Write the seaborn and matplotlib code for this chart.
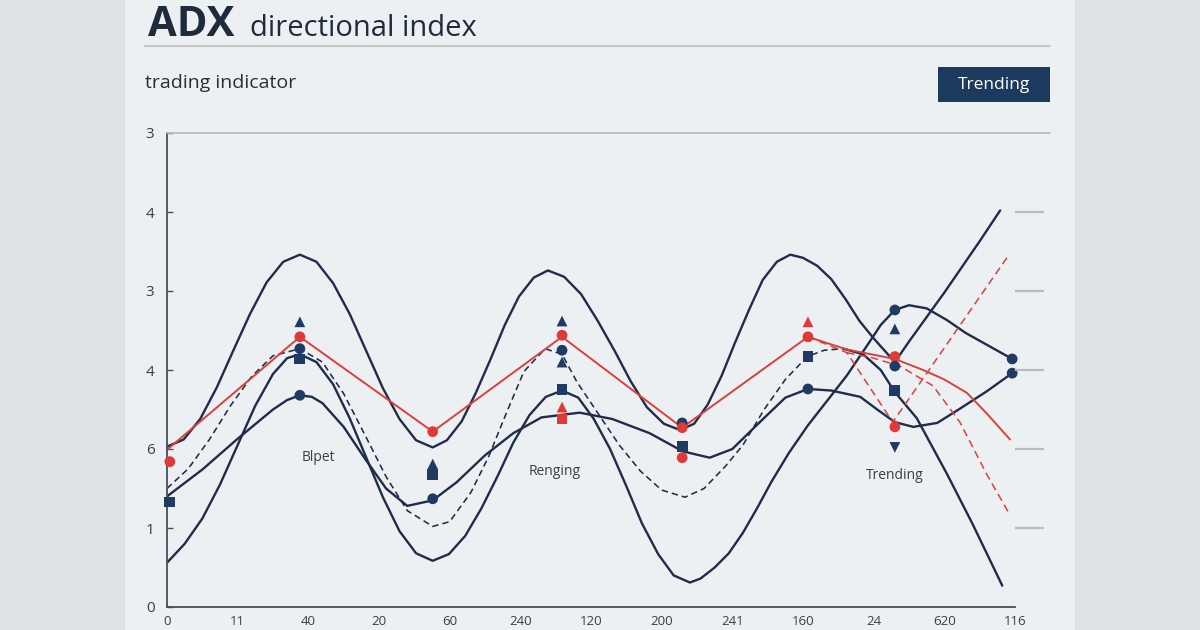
import pandas as pd
import matplotlib
matplotlib.use("Agg")
import matplotlib.pyplot as plt
import seaborn as sns
from matplotlib.patches import Rectangle
from matplotlib.lines import Line2D

sns.set_theme(style="white")
plt.rcParams['font.family'] = ['Open Sans', 'DejaVu Sans']

NAVY = '#1f2d4b'
MARK_NAVY = '#1f3a63'
RED = '#d8413d'

# ---------- axis labels (as drawn in the picture) ----------
x_tick_labels = ["0", "11", "40", "20", "60", "240", "120", "200", "241", "160", "24", "620", "116"]
y_tick_labels = ["0", "1", "6", "4", "3", "4", "3"]

# ---------- navy solid curves ----------
wave_a_x = [0, 0.235, 0.47, 0.705, 0.94, 1.175, 1.41, 1.645, 1.88,
            2.115, 2.35, 2.585, 2.82, 3.055, 3.29, 3.525, 3.76,
            3.96, 4.17, 4.37, 4.58, 4.78, 4.98, 5.19, 5.39,
            5.62, 5.86, 6.09, 6.33, 6.56, 6.79, 7.03, 7.26,
            7.46, 7.65, 7.85, 8.04, 8.24, 8.43, 8.63, 8.82,
            9.0, 9.2, 9.4, 9.6, 9.8, 10.0, 10.15, 10.3,
            10.5, 11.0, 11.5, 11.79]
wave_a_y = [2.03, 2.12, 2.38, 2.78, 3.25, 3.71, 4.11, 4.37, 4.46,
            4.37, 4.10, 3.71, 3.24, 2.77, 2.38, 2.11, 2.02,
            2.11, 2.35, 2.71, 3.14, 3.57, 3.93, 4.17, 4.26,
            4.18, 3.96, 3.63, 3.25, 2.86, 2.53, 2.32, 2.24,
            2.32, 2.56, 2.93, 3.35, 3.77, 4.14, 4.37, 4.46,
            4.42, 4.32, 4.15, 3.90, 3.62, 3.40, 3.25, 3.10,
            3.36, 3.98, 4.63, 5.02]

wave_b_x = [0, 0.25, 0.5, 0.75, 1.0, 1.25, 1.5, 1.7, 1.88,
            2.115, 2.35, 2.585, 2.82, 3.055, 3.29, 3.525, 3.76,
            3.99, 4.22, 4.45, 4.68, 4.90, 5.13, 5.36, 5.59,
            5.82, 6.04, 6.27, 6.50, 6.72, 6.95, 7.17, 7.40,
            7.55, 7.75, 7.95, 8.15, 8.35, 8.55, 8.8, 9.07, 9.35, 9.62, 9.9, 10.1, 10.3,
            10.5, 10.75, 11.04, 11.3, 11.6, 11.96]
wave_b_y = [0.56, 0.80, 1.12, 1.55, 2.05, 2.55, 2.95, 3.15, 3.20,
            3.10, 2.82, 2.39, 1.89, 1.39, 0.96, 0.68, 0.585,
            0.67, 0.90, 1.25, 1.66, 2.08, 2.43, 2.66, 2.74,
            2.65, 2.38, 2.00, 1.53, 1.06, 0.67, 0.40, 0.31,
            0.36, 0.50, 0.68, 0.94, 1.25, 1.58, 1.95, 2.30, 2.62, 2.93, 3.30, 3.57, 3.76,
            3.82, 3.78, 3.63, 3.47, 3.32, 3.14]

wave_c_x = [0, 0.5, 1.0, 1.5, 1.7, 1.88, 2.05, 2.2, 2.5, 2.8, 3.1, 3.4,
            3.76, 4.1, 4.5, 4.9, 5.3, 5.84, 6.3, 6.83, 7.3, 7.68,
            8.0, 8.4, 8.75, 9.07, 9.4, 9.81, 10.05, 10.3, 10.56, 10.9,
            11.22, 11.6, 11.96]
wave_c_y = [1.40, 1.74, 2.13, 2.50, 2.62, 2.68, 2.66, 2.58, 2.28, 1.88, 1.50, 1.28,
            1.35, 1.58, 1.92, 2.20, 2.40, 2.46, 2.38, 2.20, 1.97, 1.89,
            2.00, 2.35, 2.65, 2.76, 2.74, 2.66, 2.50, 2.34, 2.28, 2.33,
            2.51, 2.73, 2.96]

drop_x = [9.57, 9.85, 10.1, 10.3, 10.61, 11.04, 11.4, 11.82]
drop_y = [3.27, 3.20, 3.00, 2.72, 2.39, 1.68, 1.05, 0.27]

# ---------- navy dashed curve ----------
dash_x = [0, 0.3, 0.6, 0.9, 1.2, 1.5, 1.88, 2.2, 2.5, 2.8,
          3.1, 3.4, 3.76, 4.0, 4.3, 4.55, 4.8, 5.05, 5.35, 5.59,
          5.8, 6.1, 6.4, 6.7, 7.0, 7.33, 7.6, 7.9, 8.15, 8.45,
          8.75, 9.06, 9.3, 9.57]
dash_y = [1.50, 1.75, 2.12, 2.55, 2.92, 3.18, 3.27, 3.10, 2.70, 2.18,
          1.65, 1.22, 1.02, 1.08, 1.45, 1.90, 2.45, 2.98, 3.27, 3.20,
          2.85, 2.45, 2.05, 1.72, 1.48, 1.39, 1.50, 1.78, 2.05, 2.50,
          2.88, 3.17, 3.25, 3.27]

# ---------- red curves ----------
red_x = [0, 1.88, 3.76, 5.59, 7.29, 9.07, 9.62, 10.3, 10.7, 11.0, 11.32, 11.6, 11.93]
red_y = [1.99, 3.42, 2.22, 3.42, 2.27, 3.42, 3.26, 3.14, 3.00, 2.88, 2.71, 2.45, 2.12]

red_dash1_x = [9.07, 9.62, 10.27, 11.90]
red_dash1_y = [3.42, 3.22, 2.34, 4.44]

red_dash2_x = [9.62, 10.0, 10.37, 10.84, 11.22, 11.60, 11.90]
red_dash2_y = [3.22, 3.15, 3.05, 2.80, 2.34, 1.68, 1.21]

# ---------- markers ----------
mark_x = [0.04, 0.04,
          1.88, 1.88, 1.88, 1.88, 1.88,
          3.76, 3.76, 3.76, 3.76,
          5.59, 5.59, 5.59, 5.59, 5.59, 5.59, 5.59,
          7.29, 7.29, 7.29, 7.29,
          9.07, 9.07, 9.07, 9.07,
          10.30, 10.30, 10.30, 10.30, 10.30, 10.30, 10.30,
          11.96, 11.96]
mark_y = [1.84, 1.33,
          3.61, 3.42, 3.27, 3.14, 2.68,
          2.22, 1.81, 1.68, 1.37,
          3.62, 3.44, 3.25, 3.10, 2.75, 2.53, 2.38,
          2.33, 2.27, 2.03, 1.89,
          3.61, 3.42, 3.17, 2.76,
          3.76, 3.52, 3.17, 3.05, 2.74, 2.28, 2.02,
          3.14, 2.96]
mark_shape = ['o', 's',
              '^', 'o', 'o', 's', 'o',
              'o', '^', 's', 'o',
              '^', 'o', 'o', '^', 's', '^', 's',
              'o', 'o', 's', 'o',
              '^', 'o', 's', 'o',
              'o', '^', 'o', 'o', 's', 'o', 'v',
              'o', 'o']
mark_tone = ['red', 'navy',
             'navy', 'red', 'navy', 'navy', 'navy',
             'red', 'navy', 'navy', 'navy',
             'navy', 'red', 'navy', 'navy', 'navy', 'red', 'red',
             'navy', 'red', 'navy', 'red',
             'red', 'red', 'navy', 'navy',
             'navy', 'navy', 'red', 'navy', 'navy', 'red', 'navy',
             'navy', 'navy']

annot_text = ["Blpet", "Renging", "Trending"]
annot_x = [2.14, 5.49, 10.30]
annot_y = [1.89, 1.71, 1.66]

# ==================== figure ====================
W, H = 1200, 630
fig = plt.figure(figsize=(12, 6.3), dpi=100)
fig.patch.set_facecolor('#dde2e5')
fig.add_artist(Rectangle((125 / W, 0), 950 / W, 1, transform=fig.transFigure,
                         facecolor='#edf0f2', edgecolor='none', zorder=0))

# axes: top spine row at y=133 px, bottom spine at y=607 px (room for tick labels)
ax = fig.add_axes([167 / W, 23 / H, 848 / W, 474 / H])
ax.set_facecolor('none')

solid_kw = dict(ax=ax, sort=False, estimator=None, legend=False)
for xs, ys in [(wave_a_x, wave_a_y), (wave_b_x, wave_b_y),
               (wave_c_x, wave_c_y), (drop_x, drop_y)]:
    sns.lineplot(x=xs, y=ys, color=NAVY, linewidth=1.7, **solid_kw)
sns.lineplot(x=dash_x, y=dash_y, color=NAVY, linewidth=1.15, linestyle=(0, (4, 2.5)), **solid_kw)
sns.lineplot(x=red_x, y=red_y, color=RED, linewidth=1.4, **solid_kw)
sns.lineplot(x=red_dash1_x, y=red_dash1_y, color=RED, linewidth=1.1, linestyle=(0, (5, 3)), **solid_kw)
sns.lineplot(x=red_dash2_x, y=red_dash2_y, color=RED, linewidth=1.1, linestyle=(0, (5, 3)), **solid_kw)

marks = pd.DataFrame({'x': mark_x, 'y': mark_y, 'shape': mark_shape, 'tone': mark_tone})
sns.scatterplot(data=marks, x='x', y='y', hue='tone', style='shape', ax=ax,
                palette={'navy': MARK_NAVY, 'red': '#e0393a'},
                markers={'o': 'o', 's': 's', '^': '^', 'v': 'v'},
                s=60, linewidth=0, legend=False, zorder=5, clip_on=False)

for t, xx, yy in zip(annot_text, annot_x, annot_y):
    ax.text(xx, yy, t, ha='center', va='center', fontsize=10, color='#3a3f46')

ax.set_xlim(0, 12)
ax.set_ylim(0, 6)
ax.set_xticks(range(len(x_tick_labels)))
ax.set_xticklabels(x_tick_labels)
ax.set_yticks(range(len(y_tick_labels)))
ax.set_yticklabels(y_tick_labels)
ax.set_xlabel('')
ax.set_ylabel('')
ax.tick_params(axis='y', direction='in', length=4, width=1, color='#4a4f55',
               labelsize=11, labelcolor='#3a3f45', pad=9)
ax.tick_params(axis='x', direction='out', length=4, width=1, color='#4a4f55',
               labelsize=9.5, labelcolor='#3a3f45', pad=1.5)
for side in ['top', 'right']:
    ax.spines[side].set_visible(False)
for side in ['left', 'bottom']:
    ax.spines[side].set_color('#4a4f55')
    ax.spines[side].set_linewidth(1.3)

# right side short guide marks
ax2 = ax.twinx()
ax2.set_ylim(0, 6)
ax2.set_yticks([1, 2, 3, 4, 5])
ax2.tick_params(axis='y', direction='out', length=21, width=1.6, color='#b8bcc0',
                labelright=False)
for sp in ax2.spines.values():
    sp.set_visible(False)
ax2.grid(False)

# header (kept fully inside the canvas)
fig.add_artist(Line2D([145 / W, 1050 / W], [1 - 46 / H] * 2, transform=fig.transFigure,
                      color='#c4c8cb', linewidth=1.5))
fig.add_artist(Line2D([167 / W, 1050 / W], [1 - 133 / H] * 2, transform=fig.transFigure,
                      color='#b9bdc1', linewidth=1.3))
fig.text(148 / W, 1 - 36 / H, "ADX", fontsize=30, fontweight='bold', color='#1e2b3c', va='baseline')
fig.text(250 / W, 1 - 36 / H, "directional index", fontsize=21, color='#1e2b3c', va='baseline')
fig.text(145 / W, 1 - 88 / H, "trading indicator", fontsize=14, color='#2a2f36', va='baseline')

fig.add_artist(Rectangle((938 / W, 1 - 102 / H), 112 / W, 35 / H, transform=fig.transFigure,
                         facecolor='#1c3a5e', edgecolor='none'))
fig.text(994 / W, 1 - 85 / H, "Trending", fontsize=12.5, color='white', ha='center', va='center')

fig.savefig('out.png', dpi=100, facecolor=fig.get_facecolor())
